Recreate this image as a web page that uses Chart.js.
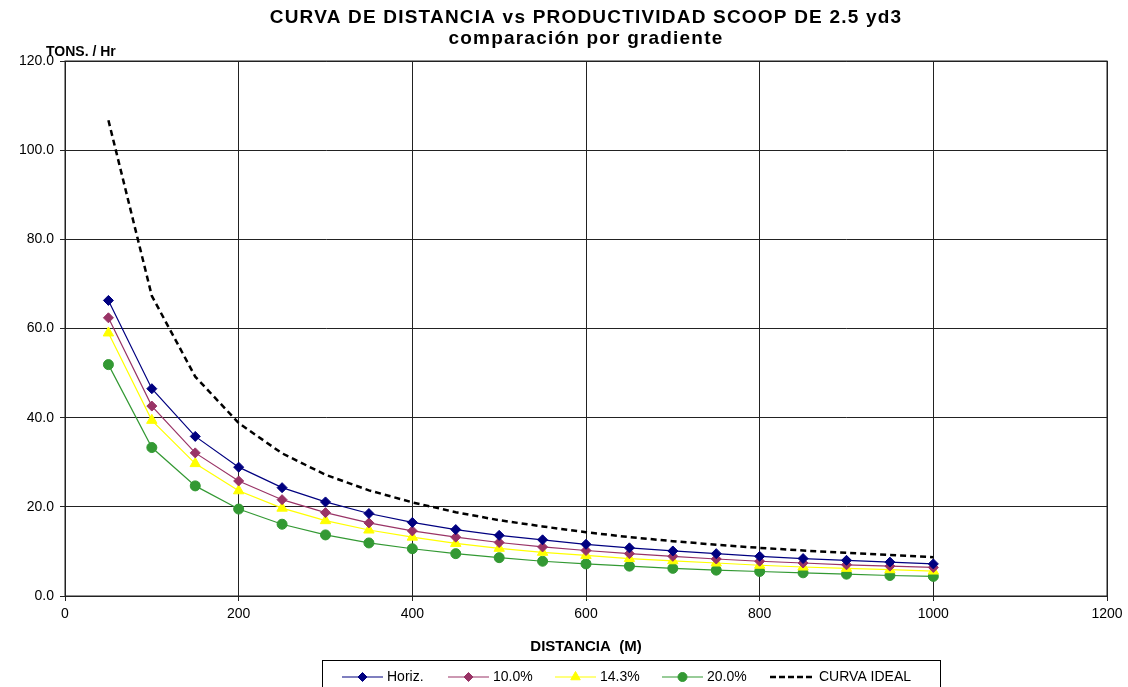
<!DOCTYPE html>
<html>
<head>
<meta charset="utf-8">
<script src="https://cdn.jsdelivr.net/npm/chart.js@4"></script>
<style>
  html, body { margin: 0; padding: 0; background: #fff; }
  #wrap { width: 1128px; height: 687px; }
</style>
</head>
<body>
<div id="wrap"><canvas id="curvaChart" width="1128" height="687"></canvas></div>
<script>
// distancia (m)
const distancias = [50, 100, 150, 200, 250, 300, 350, 400, 450, 500, 550, 600, 650, 700, 750, 800, 850, 900, 950, 1000];

// productividad (tons / hr) por gradiente
const horiz   = [66.3, 46.5, 35.8, 28.9, 24.3, 21.1, 18.5, 16.5, 14.9, 13.6, 12.6, 11.6, 10.8, 10.1, 9.5, 8.9, 8.4, 8.0, 7.6, 7.2];
const grad10  = [62.4, 42.6, 32.1, 25.8, 21.6, 18.7, 16.4, 14.6, 13.2, 12.0, 11.0, 10.2, 9.5, 8.9, 8.3, 7.8, 7.4, 7.0, 6.7, 6.4];
const grad143 = [59.0, 39.4, 29.7, 23.6, 19.7, 16.9, 14.8, 13.2, 11.8, 10.7, 9.8, 9.1, 8.4, 7.9, 7.4, 6.9, 6.5, 6.2, 5.9, 5.6];
const grad20  = [51.9, 33.3, 24.7, 19.5, 16.1, 13.7, 11.9, 10.6, 9.5, 8.6, 7.8, 7.2, 6.7, 6.2, 5.8, 5.5, 5.2, 4.9, 4.6, 4.4];
const ideal   = [106.7, 67.3, 49.2, 38.8, 32.0, 27.2, 23.7, 21.0, 18.8, 17.0, 15.6, 14.3, 13.2, 12.3, 11.5, 10.8, 10.2, 9.7, 9.2, 8.7];

const seriesNames = ['Horiz.', '10.0%', '14.3%', '20.0%', 'CURVA IDEAL'];

const FONT = '"Liberation Sans", Arial, sans-serif';

function toPoints(vals) {
    return distancias.map((d, i) => ({ x: d, y: vals[i] }));
}

// titulos, etiqueta del eje y, leyenda con recuadro
const decoraciones = {
    id: 'decoraciones',
    afterDraw(chart) {
        const ctx = chart.ctx;
        const area = chart.chartArea;
        const cx = (area.left + area.right) / 2;
        ctx.save();
        ctx.fillStyle = '#000';
        ctx.textAlign = 'center';
        ctx.textBaseline = 'middle';
        ctx.font = 'bold 19px ' + FONT;
        ctx.letterSpacing = '1.2px';
        ctx.fillText('CURVA DE DISTANCIA vs PRODUCTIVIDAD SCOOP DE 2.5 yd3', cx, 18);
        ctx.fillText('comparación por gradiente', cx, 39);
        ctx.letterSpacing = '0px';

        ctx.font = 'bold 14px ' + FONT;
        ctx.textAlign = 'left';
        ctx.fillText('TONS. / Hr', 46, 52);

        // leyenda
        const box = { x: 322, y: 660, w: 618, h: 30 };
        ctx.strokeStyle = '#000';
        ctx.lineWidth = 1;
        ctx.strokeRect(box.x + 0.5, box.y + 0.5, box.w, box.h);
        const starts = [342, 448, 555, 662, 770];
        const ly = 677;
        ctx.font = '14px ' + FONT;
        chart.data.datasets.forEach((ds, i) => {
            const x0 = starts[i];
            const len = i === 4 ? 45 : 41;
            ctx.save();
            ctx.strokeStyle = ds.borderColor;
            ctx.lineWidth = i === 4 ? 2.5 : 1.2;
            ctx.setLineDash(i === 4 ? [6, 3] : []);
            ctx.beginPath();
            ctx.moveTo(x0, ly);
            ctx.lineTo(x0 + len, ly);
            ctx.stroke();
            ctx.restore();
            if (ds.pointRadius > 0) {
                ctx.save();
                ctx.fillStyle = ds.backgroundColor;
                ctx.strokeStyle = ds.borderColor;
                Chart.helpers.drawPoint(ctx, {
                    pointStyle: ds.pointStyle,
                    radius: ds.pointRadius - 0.5,
                    rotation: 0,
                    borderWidth: 1
                }, x0 + len / 2, ly);
                ctx.restore();
            }
            ctx.fillStyle = '#000';
            ctx.fillText(ds.label, x0 + len + 4, ly);
        });
        ctx.restore();
    }
};

const fondoBlanco = {
    id: 'fondoBlanco',
    beforeDraw(chart) {
        chart.ctx.fillStyle = '#fff';
        chart.ctx.fillRect(0, 0, chart.width, chart.height);
    }
};

const marco = {
    id: 'marco',
    afterDatasetsDraw(chart) {
        const a = chart.chartArea;
        const c = chart.ctx;
        c.save();
        c.strokeStyle = '#222';
        c.lineWidth = 1;
        c.strokeRect(a.left, a.top, a.right - a.left, a.bottom - a.top);
        c.restore();
    }
};

const colores = ['#000080', '#993366', '#FFFF00', '#339933', '#000000'];
const estilos = ['rectRot', 'rectRot', 'triangle', 'circle', false];
const radios = [5, 5, 6, 5, 0];
const valores = [horiz, grad10, grad143, grad20, ideal];

const datasets = valores.map((vals, i) => ({
    label: seriesNames[i],
    data: toPoints(vals),
    borderColor: colores[i],
    backgroundColor: colores[i],
    borderWidth: i === 4 ? 2.5 : 1.2,
    borderDash: i === 4 ? [6, 4] : [],
    pointStyle: estilos[i],
    pointRadius: radios[i],
    pointHoverRadius: radios[i],
    pointBorderWidth: 1,
    tension: 0
}));

const ctx = document.getElementById('curvaChart').getContext('2d');
new Chart(ctx, {
    type: 'line',
    data: { datasets: datasets },
    options: {
        responsive: false,
        animation: false,
        layout: { padding: { top: 61, right: 21, bottom: 31, left: 0 } },
        plugins: {
            legend: { display: false },
            title: { display: false },
            tooltip: { enabled: false }
        },
        scales: {
            x: {
                type: 'linear',
                min: 0,
                max: 1200,
                ticks: {
                    stepSize: 200,
                    color: '#000',
                    font: { family: FONT, size: 14 },
                    padding: 5,
                    maxRotation: 0,
                    callback: v => String(v)
                },
                grid: { color: '#222', lineWidth: 1, tickLength: 5 },
                border: { color: '#222' },
                title: {
                    display: true,
                    text: 'DISTANCIA  (M)',
                    color: '#000',
                    font: { family: FONT, size: 15, weight: 'bold' },
                    padding: { top: 12, bottom: 0 }
                },
                afterFit(scale) { scale.height = 60; }
            },
            y: {
                min: 0,
                max: 120,
                ticks: {
                    stepSize: 20,
                    color: '#000',
                    font: { family: FONT, size: 14 },
                    padding: 6,
                    callback: v => v.toFixed(1)
                },
                grid: { color: '#222', lineWidth: 1, tickLength: 5 },
                border: { color: '#222' },
                afterFit(scale) { scale.width = 65; }
            }
        }
    },
    plugins: [fondoBlanco, decoraciones, marco]
});
</script>
</body>
</html>
